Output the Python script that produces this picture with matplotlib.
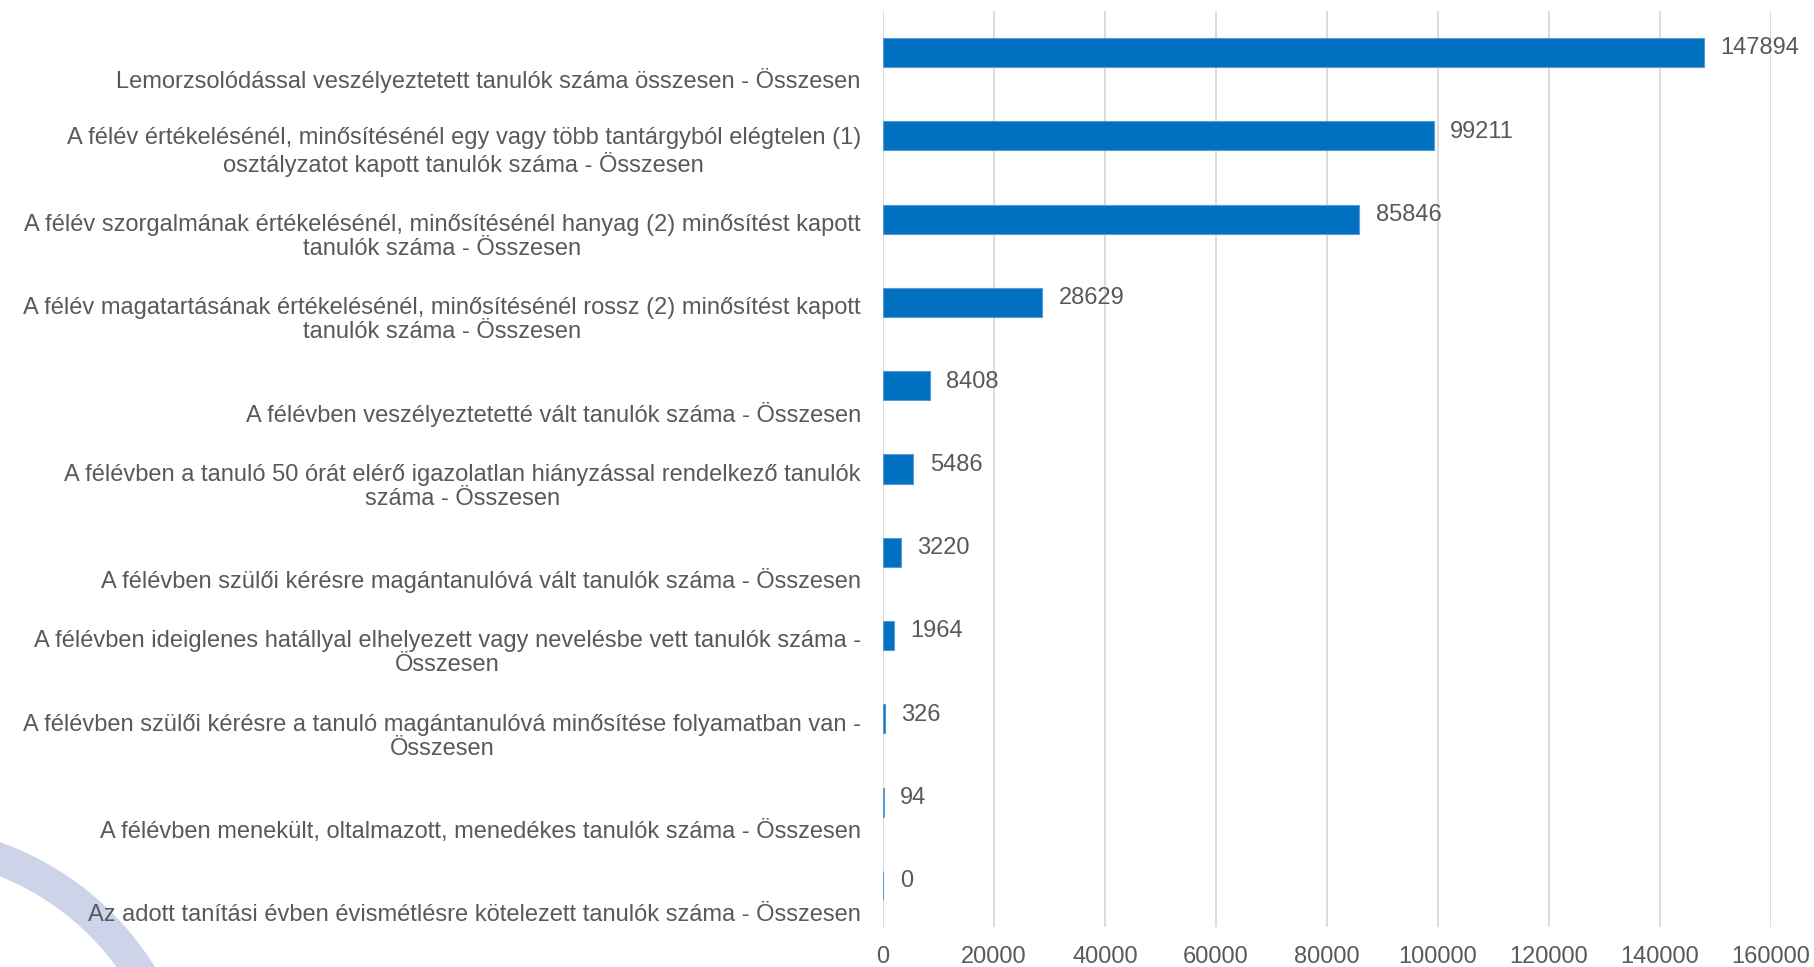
import matplotlib
matplotlib.use("Agg")
import matplotlib.pyplot as plt
from matplotlib.patches import Wedge

plt.rcParams['font.family'] = ['Liberation Sans', 'DejaVu Sans']

# categories, top to bottom
labels = [
    "Lemorzsolódással veszélyeztetett tanulók száma összesen - Összesen",
    "A félév értékelésénél, minősítésénél egy vagy több tantárgyból elégtelen (1)\nosztályzatot kapott tanulók száma - Összesen",
    "A félév szorgalmának értékelésénél, minősítésénél hanyag (2) minősítést kapott\ntanulók száma - Összesen",
    "A félév magatartásának értékelésénél, minősítésénél rossz (2) minősítést kapott\ntanulók száma - Összesen",
    "A félévben veszélyeztetetté vált tanulók száma - Összesen",
    "A félévben a tanuló 50 órát elérő igazolatlan hiányzással rendelkező tanulók\nszáma - Összesen",
    "A félévben szülői kérésre magántanulóvá vált tanulók száma - Összesen",
    "A félévben ideiglenes hatállyal elhelyezett vagy nevelésbe vett tanulók száma -\nÖsszesen",
    "A félévben szülői kérésre a tanuló magántanulóvá minősítése folyamatban van -\nÖsszesen",
    "A félévben menekült, oltalmazott, menedékes tanulók száma - Összesen",
    "Az adott tanítási évben évismétlésre kötelezett tanulók száma - Összesen",
]
values = [147894, 99211, 85846, 28629, 8408, 5486, 3220, 1964, 326, 94, 0]
xticks = [0, 20000, 40000, 60000, 80000, 100000, 120000, 140000, 160000]

txt = '#595959'
fs = 17
fig = plt.figure(figsize=(18.14, 9.67), dpi=100)

# faint watermark arc in the lower left corner
bg = fig.add_axes([0, 0, 1, 1], zorder=0)
bg.set_xlim(0, 1814)
bg.set_ylim(967, 0)
bg.axis('off')
bg.add_patch(Wedge((-100, 1125), 300, 0, 360, width=32, color='#cdd4ea', lw=0))

ax = fig.add_axes([883/1814, 1 - 927/967, 888/1814, 916/967], zorder=1)
ax.patch.set_alpha(0)

y = list(range(len(values)))
ax.barh(y, values, height=0.35, color='#0070c0', edgecolor='#5b9bd5', linewidth=0.8, zorder=3)

ax.set_xlim(0, 160000)
ax.set_ylim(len(values) - 0.5, -0.5)
ax.set_xticks(xticks)
ax.set_xticklabels([str(t) for t in xticks], fontsize=fs, color=txt)
ax.set_yticks([])
ax.tick_params(axis='x', length=0, pad=14)
ax.grid(axis='x', color='#d9d9d9', linewidth=1.3, zorder=0)
for s in ax.spines.values():
    s.set_visible(False)

for i, (lab, v) in enumerate(zip(labels, values)):
    ax.text(-0.025, i + 0.49, lab, transform=ax.get_yaxis_transform(),
            ha='right', va='bottom', multialignment='center',
            fontsize=fs, color=txt, linespacing=1.12)
    ax.annotate(str(v), (v, i - 0.05), xytext=(12, 0), textcoords='offset points',
                ha='left', va='center', fontsize=fs, color=txt)

fig.savefig('out.png', dpi=100)
